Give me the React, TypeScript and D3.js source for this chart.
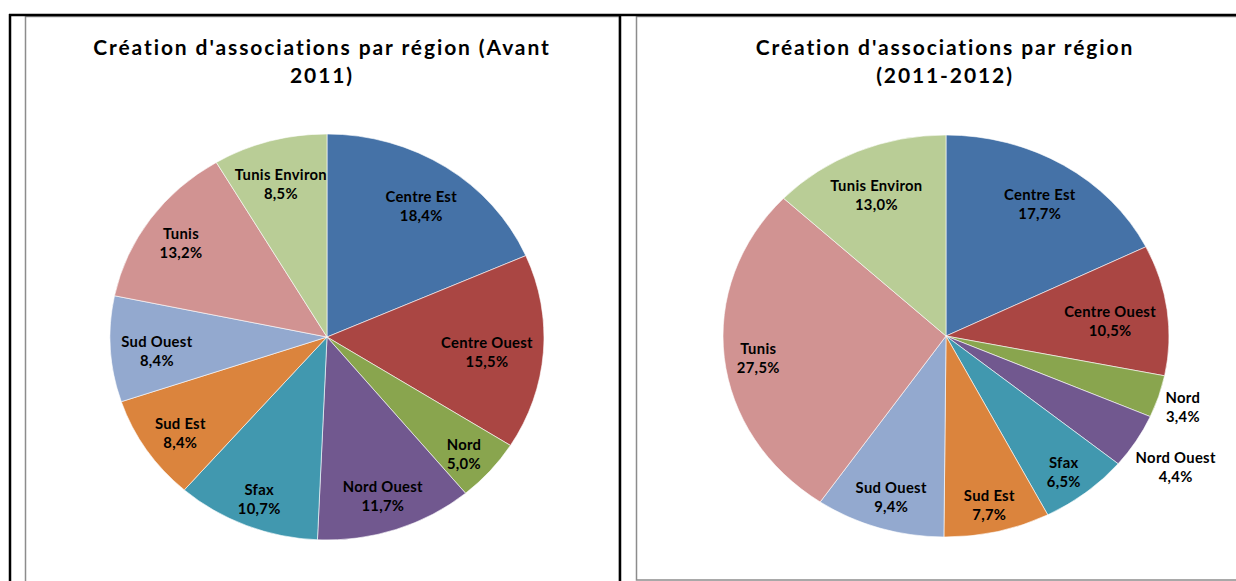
import React from 'react';
import * as d3 from 'd3';

const regions = ['Centre Est', 'Centre Ouest', 'Nord', 'Nord Ouest', 'Sfax', 'Sud Est', 'Sud Ouest', 'Tunis', 'Tunis Environ'];
const avant2011 = [18.4, 15.5, 5.0, 11.7, 10.7, 8.4, 8.4, 13.2, 8.5];
const periode2011_2012 = [17.7, 10.5, 3.4, 4.4, 6.5, 7.7, 9.4, 27.5, 13.0];
const colors = ['#4572A7', '#AA4643', '#89A54E', '#71588F', '#4198AF', '#DB843D', '#93A9CF', '#D19392', '#B9CD96'];

const FONT = 'Lato, "Open Sans", sans-serif';
const LABEL_SIZE = 14.8;

const ctx = document.createElement('canvas').getContext('2d');
function textWidth(s) {
  ctx.font = `bold ${LABEL_SIZE}px ${FONT}`;
  return ctx.measureText(s).width;
}

// "best fit" placement: slide the label box along the mid angle until its
// corners touch the given ellipse ratio (inside labels) or clear it (outside)
function placeLabel(mid, cx, cy, rx, ry, hw, hh, outside) {
  const s = Math.sin(mid), c = -Math.cos(mid);
  const cornerR = (t) => {
    const x = t * s, y = t * c;
    return [[-1, -1], [1, -1], [-1, 1], [1, 1]].map(([a, b]) =>
      Math.hypot(x + (a * hw) / rx, y + (b * hh) / ry));
  };
  let lo = 0, hi = outside ? 2 : 1;
  for (let k = 0; k < 40; k++) {
    const t = (lo + hi) / 2;
    if (outside) {
      if (Math.min(...cornerR(t)) < 1.02) lo = t; else hi = t;
    } else {
      if (Math.max(...cornerR(t)) < 0.95) lo = t; else hi = t;
    }
  }
  const t = outside ? hi : lo;
  return [cx + rx * t * s, cy + ry * t * c];
}

function Pie({ titleLines, values, cx, cy, rx, ry, titleX }) {
  const pie = d3.pie().sort(null).value((d) => d);
  const arcs = pie(values);
  const arc = d3.arc().innerRadius(0).outerRadius(ry);

  return (
    <g>
      {titleLines.map((t, i) => (
        <text key={i} x={titleX} y={46 + i * 28} textAnchor="middle" dominantBaseline="central"
              fontFamily={FONT} fontWeight="bold" fontSize={21} letterSpacing={1.9} fill="#000">{t}</text>
      ))}
      <g transform={`translate(${cx},${cy}) scale(${rx / ry},1)`}>
        {arcs.map((a, i) => (
          <path key={i} d={arc(a)} fill={colors[i]} stroke="#fff" strokeWidth={0.6}
                vectorEffect="non-scaling-stroke" />
        ))}
      </g>
      {arcs.map((a, i) => {
        const mid = (a.startAngle + a.endAngle) / 2;
        const pct = values[i].toFixed(1).replace('.', ',') + '%';
        const hw = Math.max(textWidth(regions[i]), textWidth(pct)) / 2;
        const [x, y] = placeLabel(mid, cx, cy, rx, ry, hw, 16, values[i] < 4.5);
        return (
          <g key={i} fontFamily={FONT} fontWeight="bold" fontSize={LABEL_SIZE} letterSpacing={0.3}
             fill="#000" textAnchor="middle">
            <text x={x} y={y - 6} dominantBaseline="central">{regions[i]}</text>
            <text x={x} y={y + 13} dominantBaseline="central">{pct}</text>
          </g>
        );
      })}
    </g>
  );
}

export default function App() {
  return (
    <svg width={1236} height={581} style={{ position: 'absolute', left: 0, top: 0, background: '#fff' }}>
      {/* chart frames */}
      <rect x={25.5} y={16.5} width={594} height={600} fill="#fff" stroke="#8c8c8c" strokeWidth={1.5} />
      <rect x={636.5} y={16.5} width={618} height={563.5} fill="#fff" stroke="#8c8c8c" strokeWidth={1.5} />
      {/* table borders */}
      <line x1={9} x2={1236} y1={15} y2={15} stroke="#000" strokeWidth={2.5} />
      <line x1={10} x2={10} y1={14} y2={581} stroke="#000" strokeWidth={2.5} />
      <line x1={620} x2={620} y1={14} y2={581} stroke="#000" strokeWidth={2.5} />

      <Pie titleLines={["Création d'associations par région (Avant", '2011)']}
           values={avant2011} cx={327} cy={337} rx={217} ry={203} titleX={322} />
      <Pie titleLines={["Création d'associations par région", '(2011-2012)']}
           values={periode2011_2012} cx={946} cy={336} rx={223} ry={201} titleX={945} />
    </svg>
  );
}
